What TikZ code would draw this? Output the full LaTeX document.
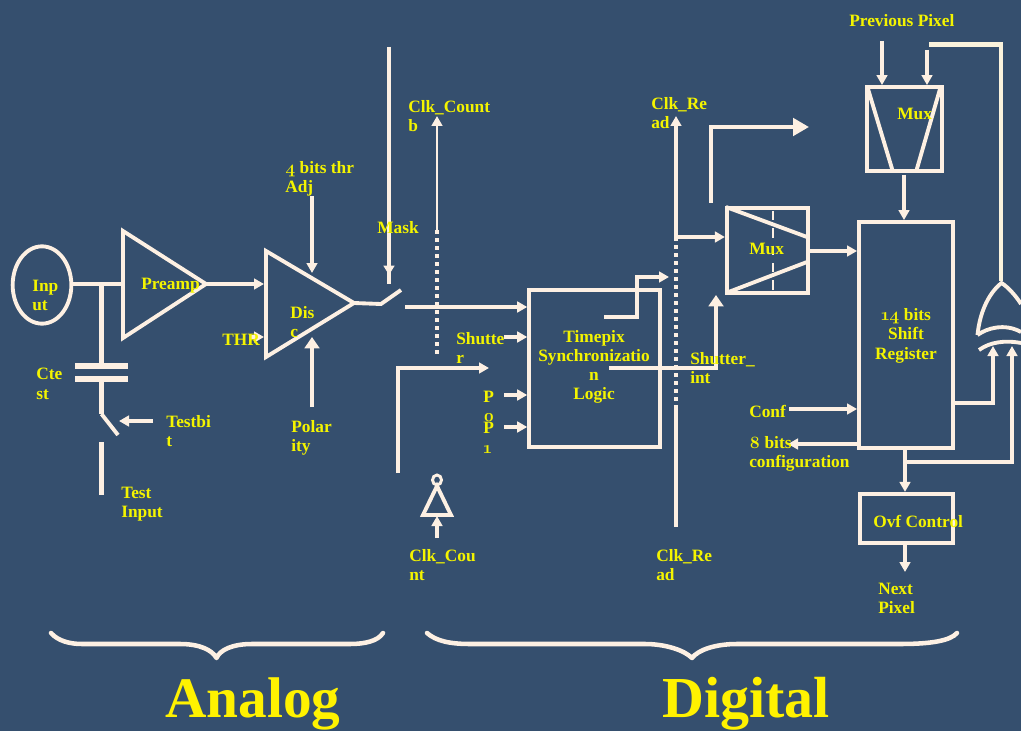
\documentclass[tikz,border=0pt]{standalone}
\usepackage{fontspec}
\setmainfont{Liberation Serif}
\newfontfamily\osf[Numbers=OldStyle,UprightFont={Latin Modern Roman/B},BoldFont={Latin Modern Roman/B}]{Latin Modern Roman}
\usetikzlibrary{arrows.meta,shapes.geometric}
\definecolor{bgblue}{HTML}{354F6E}
\definecolor{wire}{HTML}{FDF0E3}
\definecolor{wirey}{HTML}{FBF3DC}
\definecolor{lab}{HTML}{F4F400}
\tikzset{
  x=0.75pt,y=-0.75pt,
  wr/.style={draw=wire,line width=2.9pt,line cap=butt,line join=miter},
  wrthin/.style={wr,line width=2.2pt},
  wrthick/.style={wr,line width=3.7pt},
  sa/.style={-{Triangle[length=7.5pt,width=8pt]}},
  ma/.style={-{Triangle[length=8.5pt,width=11pt]}},
  ba/.style={-{Triangle[length=12pt,width=13pt]}},
  dots/.style={draw=wire,line width=2.8pt,dash pattern=on 3pt off 3pt},
  lbl/.style={font=\fontsize{13}{14.3}\selectfont\bfseries,text=lab,inner sep=0pt,align=left,anchor=west,yshift=-1pt},
  clbl/.style={lbl,align=center,anchor=center},
  big/.style={font=\fontsize{43}{50}\selectfont\bfseries,text=yellow,inner sep=0pt,anchor=base west},
  bx/.style={wr,rectangle,inner sep=0pt,minimum width=#1},
  brc/.style={draw=wire,line width=3.4pt,line cap=round,line join=round},
}
\begin{document}
\begin{tikzpicture}
\useasboundingbox[fill=bgblue] (0,0) rectangle (1021,731);
% blocks
\node[bx=98pt,minimum height=118pt] (sync) at (594.5,368.7) {};
\node[bx=70.5pt,minimum height=169.5pt] (reg) at (906,335) {};
\node[bx=70pt,minimum height=37pt] (ovf) at (906.5,518.5) {};
\node[bx=61pt,minimum height=64pt] (muxa) at (767.5,250.5) {};
\node[bx=56pt,minimum height=63pt] (muxb) at (904.5,129) {};
\node[draw=wire,line width=2.9pt,ellipse,inner sep=0pt,minimum width=44pt,minimum height=58pt] (in) at (42,285) {};
% named points
\coordinate (pa1) at (123,231); \coordinate (pa2) at (123,338); \coordinate (pat) at (206,284);
\coordinate (d1) at (266,251); \coordinate (d2) at (266,357); \coordinate (dt) at (354,303);
% triangles
\draw[wr,line join=miter] (pa1) -- (pat) -- (pa2) -- cycle;
\draw[wr,line join=miter] (d1) -- (dt) -- (d2) -- cycle;
% input and capacitor
\coordinate (paw) at (123,284); \coordinate (tee) at (101.5,284);
\draw[wrthick] (in.east |- paw) -- (paw);
\coordinate (c1) at (101.5,366); \coordinate (c2) at (101.5,379);
\coordinate (c1l) at (75,366); \coordinate (c1r) at (128,366);
\coordinate (c2l) at (75,379); \coordinate (c2r) at (128,379);
\coordinate (sw1) at (101.5,414); \coordinate (sw2) at (118,435);
\coordinate (ti1) at (101.5,442); \coordinate (ti2) at (101.5,495);
\draw[wrthick] (tee) -- (c1);
\draw[wrthick,line width=4pt] (c1l) -- (c1r); \draw[wrthick,line width=4pt] (c2l) -- (c2r);
\draw[wrthick] (c2) -- (sw1);
\draw[wr] (sw1) -- (sw2);
\draw[wrthick] (ti1) -- (ti2);
\coordinate (tb1) at (153,421); \coordinate (tb2) at (119,421);
\draw[wrthick,line width=3pt,sa] (tb1) -- (tb2);
% preamp -> disc
\coordinate (dw) at (264,284);
\draw[wr,sa] (pat) -- (dw);
\coordinate (ad1) at (312,196); \coordinate (ad2) at (312,273);
\draw[wr,sa] (ad1) -- (ad2);
\coordinate (po1) at (312,407); \coordinate (po2) at (312,337);
\draw[wr,ma] (po1) -- (po2);
\coordinate (th1) at (250,337); \coordinate (th2) at (264,337);
\draw[wr,sa] (th1) -- (th2);
% switch and mask
\coordinate (so1) at (381,304); \coordinate (so2) at (401,290);
\draw[wr] (dt) -- (so1) -- (so2);
\coordinate (mk1) at (389,47); \coordinate (mk2) at (389,275); \coordinate (mk3) at (389,284);
\draw[wrthick] (mk1) -- (mk3);
\draw[wrthick,-{Triangle[length=7pt,width=8pt]}] (mk1) -- (mk2);
% clk count
\coordinate (cc1) at (437,230); \coordinate (cc2) at (437,116); \coordinate (cc3) at (437,357);
\draw[wrthin,sa] (cc1) -- (cc2);
\draw[dots] (cc1) -- (cc3);
% inputs to sync
\coordinate (s1) at (405,307); \coordinate (s2) at (504,337); \coordinate (s3) at (504,395); \coordinate (s4) at (504,427);
\draw[wr,sa] (s1) -- (sync.west |- s1);
\draw[wr,sa] (s2) -- (sync.west |- s2);
\draw[wr,sa] (s3) -- (sync.west |- s3);
\draw[wr,sa] (s4) -- (sync.west |- s4);
\coordinate (l1) at (398,473); \coordinate (l2) at (398,368); \coordinate (l3) at (489,368);
\draw[wr,sa] (l1) -- (l2) -- (l3);
% inverter
\coordinate (iv1) at (437,486); \coordinate (iv2) at (423,515); \coordinate (iv3) at (451,515);
\draw[wr] (iv1) -- (iv3) -- (iv2) -- cycle;
\node[draw=wire,line width=2.2pt,ellipse,inner sep=0pt,minimum width=6.75pt,minimum height=7.5pt] (bub) at (437,480) {};
\coordinate (iva) at (437,538); \coordinate (ivb) at (437,516);
\draw[wr,sa] (iva) -- (ivb);
% sync outputs
\coordinate (o1) at (604,317); \coordinate (o2) at (637,317); \coordinate (o3) at (637,277); \coordinate (o4) at (669,277);
\draw[wr,sa] (o1) -- (o2) -- (o3) -- (o4);
\coordinate (o5) at (609,368); \coordinate (o6) at (716,368); \coordinate (o7) at (716,295);
\draw[wr,ma] (o5) -- (o6) -- (o7);
% clk read
\coordinate (cr1) at (676,237); \coordinate (cr2) at (676,116); \coordinate (cr3) at (676,405); \coordinate (cr4) at (676,527);
\draw[wr,sa] (cr1) -- (cr2);
\draw[dots] (cr1) -- (cr3);
\draw[wrthick] (cr3) -- (cr4);
\draw[wr,sa] (cr1) -- (muxa.west |- cr1);
% top arrow
\coordinate (t1) at (711,203); \coordinate (t2) at (711,127); \coordinate (t3) at (809,127);
\draw[wr,ba] (t1) -- (t2) -- (t3);
% mux A internals
\coordinate (ma1) at (726,207); \coordinate (ma2) at (807,237); \coordinate (ma3) at (726,293); \coordinate (ma4) at (807,262);
\draw[wr] (ma1) -- (ma2); \draw[wr] (ma3) -- (ma4);
\coordinate (md1) at (773,211); \coordinate (md2) at (773,291);
\draw[draw=wire,line width=2pt,dash pattern=on 7pt off 6pt] (md1) -- (md2);
\coordinate (ra) at (808,251);
\draw[wr,sa] (ra) -- (reg.west |- ra);
% mux B
\coordinate (mb1) at (868,89); \coordinate (mb2) at (893,172); \coordinate (mb3) at (940,89); \coordinate (mb4) at (916,172);
\draw[wr] (mb1) -- (mb2); \draw[wr] (mb3) -- (mb4);
\coordinate (pp1) at (882,41); \coordinate (pp2) at (927,50);
\draw[wr,sa] (pp1) -- (pp1 |- muxb.north);
\draw[wr,sa] (pp2) -- (pp2 |- muxb.north);
\coordinate (rb) at (904,175);
\draw[wr,sa] (rb) -- (rb |- reg.north);
% feedback
\coordinate (f1) at (929,44.5); \coordinate (f2) at (1001,44.5); \coordinate (f3) at (1001,281);
\draw[draw=wirey,line width=3.6pt] (f1) -- (f2) -- (f3);
% conf
\coordinate (cf) at (789,409); \coordinate (cb) at (788,444);
\draw[wr,sa] (cf) -- (reg.west |- cf);
\draw[wr,sa] (reg.west |- cb) -- (cb);
% register to gate
\coordinate (g1) at (993,403); \coordinate (g2) at (993,346);
\draw[wrthick,sa] (reg.east |- g1) -- (g1) -- (g2);
\coordinate (b0) at (905,462); \coordinate (g3) at (1012,462); \coordinate (g4) at (1012,346);
\draw[wrthick,line width=3.2pt,sa] (b0) -- (g3) -- (g4);
\coordinate (rs) at (905,449);
\draw[wrthick,line width=3pt,sa] (rs) -- (rs |- ovf.north);
\coordinate (nx) at (905,572);
\draw[wrthick,line width=3pt,sa] (nx |- ovf.south) -- (nx);
% OR gate
\coordinate (or0) at (1001.5,283); \coordinate (orl) at (977.5,335); \coordinate (orr) at (1021,304);
\coordinate (orb) at (1021,332); \coordinate (or2l) at (979,350); \coordinate (or2r) at (1021,343);
\draw[wr,line join=miter] (orl) .. controls (980,310) and (990,292) .. (or0) .. controls (1008,287) and (1016,296) .. (orr);
\draw[wr] (orl) .. controls (987,328) and (1005,323) .. (orb);
\draw[wr] (or2l) .. controls (990,342) and (1005,340) .. (or2r);
% braces
\coordinate (ba1) at (51,633); \coordinate (bat) at (216.5,658); \coordinate (ba2) at (383,633);
\coordinate (bd1) at (427,633); \coordinate (bdt) at (692,658); \coordinate (bd2) at (957,633);
\draw[brc] (ba1) .. controls (58,641) and (70,644) .. (82,644) -- (180,644) .. controls (200,644) and (212,650) .. (bat) .. controls (220,650) and (232,644) .. (252,644) -- (350,644) .. controls (365,644) and (378,641) .. (ba2);
\draw[brc] (bd1) .. controls (436,641) and (450,644) .. (470,644) -- (645,644) .. controls (665,644) and (684,650) .. (bdt) .. controls (698,650) and (715,644) .. (737,644) -- (900,644) .. controls (930,644) and (950,641) .. (bd2);
% labels
\node[big] (analog) at (165,717.5) {Analog};
\node[big,font=\fontsize{43.5}{50}\selectfont\bfseries] (digital) at (662,717.5) {Digital};
\node[lbl] (t1a) at (32,294.5) {Inp\\ut};
\node[lbl] (t2a) at (141,284) {Preamp};
\node[lbl] (t3a) at (36,382.5) {Cte\\st};
\node[lbl] (t4a) at (166,429.5) {Testbi\\t};
\node[lbl] (t5a) at (121,502.5) {Test\\Input};
\node[lbl] (t6a) at (290,320.5) {Dis\\c};
\node[lbl] (t7a) at (222,338.5) {THR};
\node[lbl] (t8a) at (291,436.5) {Polar\\ity};
\node[lbl] (t9a) at (285,177.5) {{\osf 4} bits thr\\Adj};
\node[lbl] (t10a) at (377,226) {Mask};
\node[lbl] (t11a) at (408,114.5) {Clk\_Count\\b};
\node[lbl] (t12a) at (456,346.5) {Shutte\\r};
\node[lbl] (t13a) at (483,405.5) {P\\{\osf 0}};
\node[lbl] (t14a) at (483,436.5) {P\\{\osf 1}};
\node[clbl] (t15a) at (594,365.5) {Timepix\\Synchronizatio\\n\\Logic};
\node[lbl] (t16a) at (690,366.5) {Shutter\_\\int};
\node[lbl] (t17a) at (651,111.5) {Clk\_Re\\ad};
\node[lbl] (t18a) at (656,563.5) {Clk\_Re\\ad};
\node[lbl] (t19a) at (409,563.5) {Clk\_Cou\\nt};
\node[lbl] (t20a) at (849,19) {Previous Pixel};
\node[lbl] (t21a) at (897,113) {Mux};
\node[lbl] (t22a) at (749,248) {Mux};
\node[clbl] (t23a) at (906,334.5) {{\osf 14} bits\\Shift\\Register};
\node[lbl] (t24a) at (749,410) {Conf};
\node[lbl] (t25a) at (749,453) {{\osf 8} bits\\configuration};
\node[lbl] (t26a) at (873,520) {Ovf Control};
\node[lbl] (t27a) at (878,597.5) {Next\\Pixel};
\end{tikzpicture}
\end{document}
